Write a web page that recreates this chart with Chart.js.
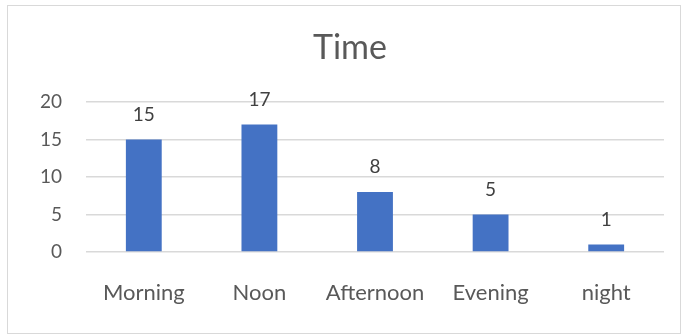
<!DOCTYPE html>
<html>
<head>
<meta charset="utf-8">
<script src="https://cdn.jsdelivr.net/npm/chart.js@4.4.1/dist/chart.umd.min.js"></script>
<style>
  html, body { margin: 0; padding: 0; background: #fff; }
  #wrap { position: relative; width: 687px; height: 335px; }
  #frame { position: absolute; left: 7px; top: 5px; width: 672px; height: 327px; border: 1px solid #d9d9d9; pointer-events: none; }
</style>
</head>
<body>
<div id="wrap">
  <canvas id="timeChart" width="687" height="335"></canvas>
  <div id="frame"></div>
</div>
<script>
const chartTitle = 'Time';
const categories = ['Morning', 'Noon', 'Afternoon', 'Evening', 'night'];
const counts = [15, 17, 8, 5, 1];
const yTicks = [0, 5, 10, 15, 20];

const fontFamily = 'Lato, "Open Sans", sans-serif';

// title centred over the whole frame, values above each bar
const barLabels = {
    id: 'barLabels',
    afterDatasetsDraw(chart) {
        const ctx = chart.ctx;
        const meta = chart.getDatasetMeta(0);
        ctx.save();
        ctx.textAlign = 'center';
        ctx.textBaseline = 'middle';

        ctx.fillStyle = '#595959';
        ctx.font = '34px ' + fontFamily;
        ctx.fillText(chartTitle, 350, 48);

        ctx.fillStyle = '#404040';
        ctx.font = '19px ' + fontFamily;
        meta.data.forEach((bar, i) => {
            ctx.fillText(String(counts[i]), bar.x, bar.y - 25);
        });
        ctx.restore();
    }
};

Chart.defaults.font.family = fontFamily;
Chart.defaults.color = '#595959';

let ctx = document.getElementById('timeChart').getContext('2d');
let timeChart = new Chart(ctx, {
    type: 'bar',
    data: {
        labels: categories,
        datasets: [{
            data: counts,
            backgroundColor: '#4472C4',
            borderWidth: 0,
            categoryPercentage: 1,
            barPercentage: 0.31
        }]
    },
    options: {
        responsive: false,
        animation: false,
        layout: {
            padding: { left: 0, right: 23, top: 102, bottom: 23 }
        },
        plugins: {
            legend: { display: false },
            tooltip: { enabled: false },
            title: { display: false }
        },
        scales: {
            x: {
                grid: { display: false },
                border: { display: false },
                ticks: {
                    font: { size: 22 },
                    padding: 20,
                    maxRotation: 0
                },
                afterFit(scale) { scale.height = 60; }
            },
            y: {
                min: 0,
                max: 20,
                afterBuildTicks(scale) { scale.ticks = yTicks.map(v => ({ value: v })); },
                grid: { color: '#d9d9d9', lineWidth: 1.5, drawTicks: false },
                border: { display: false },
                ticks: {
                    font: { size: 19 },
                    padding: 24
                },
                afterFit(scale) { scale.width = 86; }
            }
        }
    },
    plugins: [barLabels]
});
</script>
</body>
</html>
